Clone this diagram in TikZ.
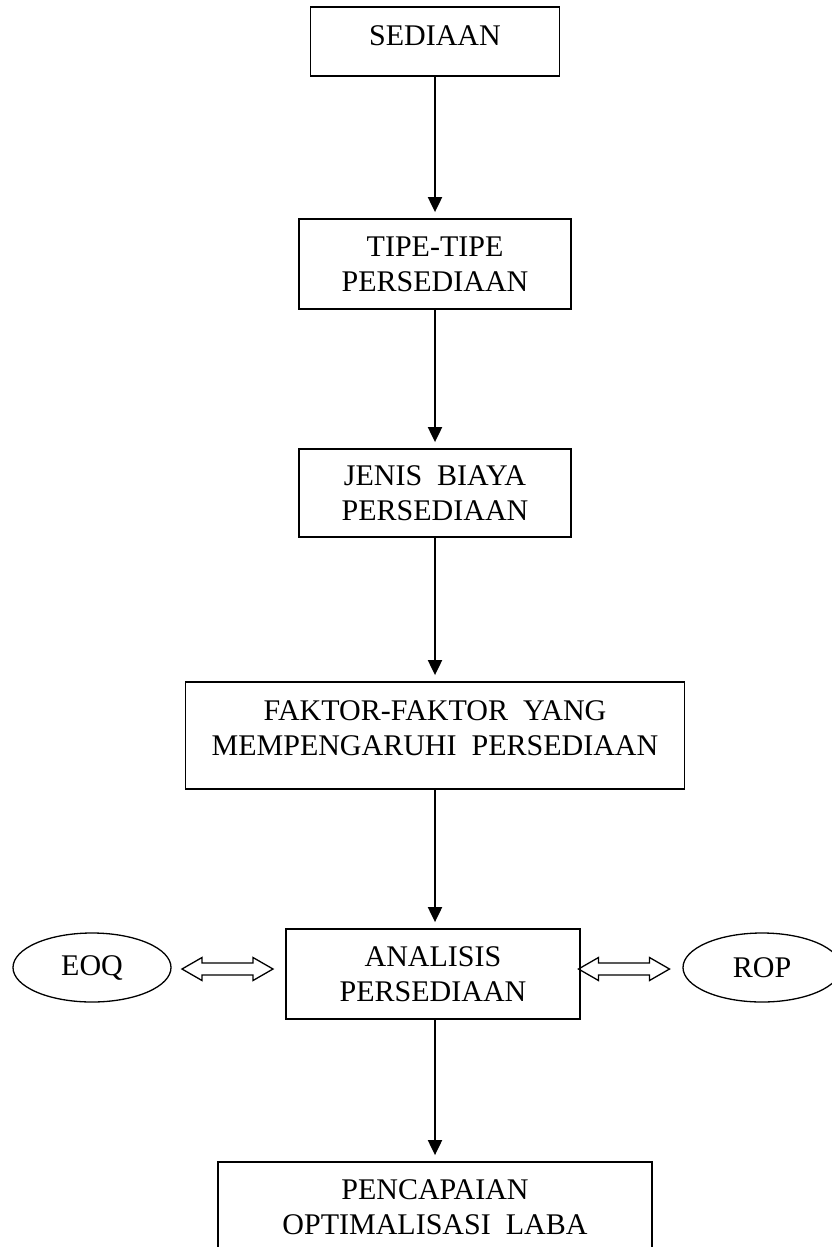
\documentclass[tikz,border=0pt]{standalone}
\usepackage{fontspec}
\setmainfont{Liberation Serif}
\usetikzlibrary{arrows.meta,shapes.geometric}
\tikzset{
    pics/duapanah/.style={code={
        \draw [line width=1.3pt,line join=miter] (-45.5,0) -- ++(20,11.5) -- ++(0,-5.5) -- ++(51,0) -- ++(0,5.5)
            -- ++(20,-11.5) -- ++(-20,-11.5) -- ++(0,5.5) -- ++(-51,0) -- ++(0,-5.5) -- cycle;
    }}
}
\begin{document}
\begin{tikzpicture}[x=1pt,y=-1pt,
    kotak/.style={draw,line width=1.8pt,align=center,inner sep=0pt,font=\fontsize{30}{35}\selectfont},
    elips/.style={draw,ellipse,line width=1.3pt,minimum width=158pt,minimum height=69pt,inner sep=0pt,font=\fontsize{30}{35}\selectfont},
    panah/.style={line width=2pt,-{Triangle[length=15pt,width=14pt]},shorten >=6pt}]
    \clip (0,0) rectangle (832,1247);
    \node [kotak,minimum width=249pt,minimum height=69pt,text depth=11pt] (sediaan) at (435,41.5) {SEDIAAN};
    \node [kotak,minimum width=272pt,minimum height=90pt] (tipe) at (435,264) {TIPE-TIPE\\PERSEDIAAN};
    \node [kotak,minimum width=272pt,minimum height=88pt] (jenis) at (435,493) {JENIS\ \ BIAYA\\PERSEDIAAN};
    \node [kotak,minimum width=499pt,minimum height=107pt,text depth=14pt] (faktor) at (435,735.5) {FAKTOR-FAKTOR\ \ YANG\\MEMPENGARUHI\ \ PERSEDIAAN};
    \node [kotak,minimum width=294pt,minimum height=90pt] (analisis) at (433,974) {ANALISIS\\PERSEDIAAN};
    \node [kotak,minimum width=434pt,minimum height=90pt] (capai) at (435,1207) {PENCAPAIAN\\OPTIMALISASI\ \ LABA};
    \node [elips] (eoq) at (92,967.5) {EOQ};
    \node [elips] (rop) at (762,967.5) {ROP};
    \pic at (227.5,969) {duapanah};
    \pic at (624,969) {duapanah};
    \draw [panah] (sediaan) -- (sediaan |- tipe.north);
    \draw [panah] (tipe) -- (tipe |- jenis.north);
    \draw [panah] (jenis) -- (jenis |- faktor.north);
    \draw [panah] (faktor.south -| tipe) -- (tipe |- analisis.north);
    \draw [panah] (analisis.south -| tipe) -- (tipe |- capai.north);
\end{tikzpicture}
\end{document}
